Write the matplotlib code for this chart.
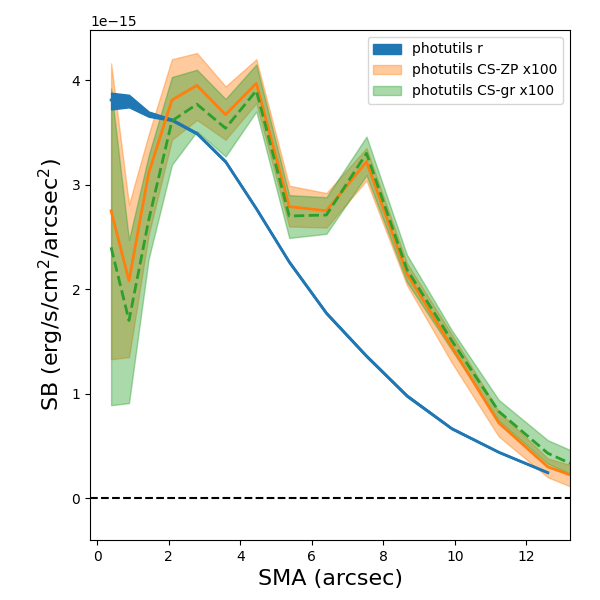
import numpy as np
import matplotlib
matplotlib.use("Agg")
import matplotlib.pyplot as plt

# semi-major axis (arcsec)
sma = [0.39, 0.89, 1.44, 2.09, 2.79, 3.59, 4.45, 5.37, 6.41, 7.53,
       8.66, 9.91, 11.23, 12.60, 13.90]

# photutils r profile (units of 1e-15)
sb_r = [3.81, 3.80, 3.67, 3.62, 3.49, 3.22, 2.77, 2.26, 1.77, 1.36,
        0.98, 0.667, 0.44, 0.245]
sb_r_lo = [3.72, 3.74, 3.65, 3.61, 3.48, 3.21, 2.76, 2.25, 1.76, 1.35,
           0.97, 0.66, 0.435, 0.24]
sb_r_hi = [3.88, 3.86, 3.70, 3.63, 3.50, 3.23, 2.78, 2.27, 1.78, 1.37,
           0.99, 0.675, 0.445, 0.25]

# CS-ZP x100
sb_zp = [2.75, 2.08, 3.11, 3.81, 3.95, 3.67, 3.97, 2.79, 2.75, 3.22,
         2.15, 1.45, 0.72, 0.30, 0.14]
sb_zp_hi = [4.16, 2.81, 3.48, 4.20, 4.26, 3.94, 4.20, 2.99, 2.92, 3.35,
            2.25, 1.57, 0.83, 0.38, 0.25]
sb_zp_lo = [1.33, 1.35, 2.52, 3.43, 3.62, 3.43, 3.78, 2.60, 2.59, 3.04,
            2.04, 1.30, 0.59, 0.20, 0.02]

# CS-gr x100
sb_gr = [2.40, 1.70, 2.66, 3.61, 3.77, 3.54, 3.90, 2.70, 2.71, 3.30,
         2.19, 1.51, 0.83, 0.43, 0.23]
sb_gr_hi = [3.92, 2.47, 3.28, 4.03, 4.10, 3.82, 4.15, 2.90, 2.88, 3.46,
            2.33, 1.61, 0.94, 0.555, 0.36]
sb_gr_lo = [0.89, 0.91, 2.29, 3.19, 3.51, 3.27, 3.70, 2.49, 2.53, 3.09,
            2.07, 1.42, 0.74, 0.33, 0.13]

scale = 1e-15
x = np.array(sma)
nr = len(sb_r)

fig, ax = plt.subplots(figsize=(6, 6), dpi=100)
fig.subplots_adjust(left=0.15, right=0.95, bottom=0.10, top=0.95)

f_zp = ax.fill_between(x, np.array(sb_zp_lo) * scale, np.array(sb_zp_hi) * scale,
                       color='C1', alpha=0.4, label='photutils CS-ZP x100')
f_gr = ax.fill_between(x, np.array(sb_gr_lo) * scale, np.array(sb_gr_hi) * scale,
                       color='C2', alpha=0.4, label='photutils CS-gr x100')
f_r = ax.fill_between(x[:nr], np.array(sb_r_lo) * scale, np.array(sb_r_hi) * scale,
                      color='C0', label='photutils r')

ax.plot(x[:nr], np.array(sb_r) * scale, color='C0', lw=2)
ax.plot(x, np.array(sb_zp) * scale, color='C1', lw=2)
ax.plot(x, np.array(sb_gr) * scale, color='C2', lw=2, ls='--')

ax.axhline(0, color='k', ls='--')

ax.set_xlim(-0.2, 13.22)
ax.set_ylim(-0.40e-15, 4.48e-15)
ax.set_xlabel('SMA (arcsec)', fontsize=16)
ax.set_ylabel('SB (erg/s/cm$^2$/arcsec$^2$)', fontsize=16)
ax.legend(handles=[f_r, f_zp, f_gr], loc='upper right')

plt.savefig('out.png')
